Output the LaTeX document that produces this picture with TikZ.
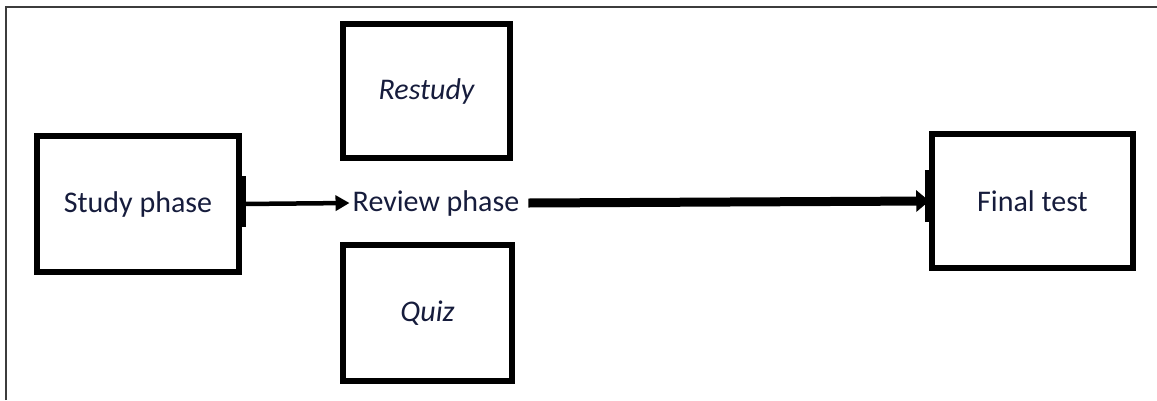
\documentclass[tikz,border=0pt]{standalone}
\usepackage{fontspec}
\setmainfont{Carlito}
\usetikzlibrary{arrows.meta}
\definecolor{txt}{RGB}{22,28,60}
\definecolor{frame}{RGB}{60,60,60}
\begin{document}
\begin{tikzpicture}[x=1pt,y=-1pt,
  box/.style={draw=black,line width=5.5pt,minimum width=#1,inner sep=0pt},
  lbl/.style={text=txt,font=\fontsize{30}{36}\selectfont},
  bar/.style={line width=8pt},
]
\useasboundingbox (0,0) rectangle (1157,400);
\draw[frame,line width=2.5pt] (6,400) -- (6,7) -- (1157,7);
\node[box=202pt,minimum height=136pt,lbl] (study) at (138,204) {Study phase};
\node[box=167pt,minimum height=134pt,lbl,font=\fontsize{30}{36}\selectfont\itshape] (restudy) at (426.5,91) {Restudy};
\node[box=169pt,minimum height=136pt,lbl,font=\fontsize{30}{36}\selectfont\itshape] (quiz) at (427.5,313) {Quiz};
\node[box=201pt,minimum height=134pt,lbl] (final) at (1032.5,201) {Final test};
\node[lbl,inner sep=3pt] (review) at (436,203) {Review phase};
\draw[bar] ([yshift=-23pt]study.east) -- ([yshift=28pt]study.east);
\draw[bar] ([yshift=-21pt]final.west) -- ([yshift=31pt]final.west);
\draw[line width=4.5pt,-{Triangle[length=14pt,width=15pt]}] (study.east) -- (review.west);
\draw[line width=9pt,-{Triangle[length=13pt,width=21pt]}] ([xshift=6pt]review.east) -- (final.west);
\end{tikzpicture}
\end{document}
